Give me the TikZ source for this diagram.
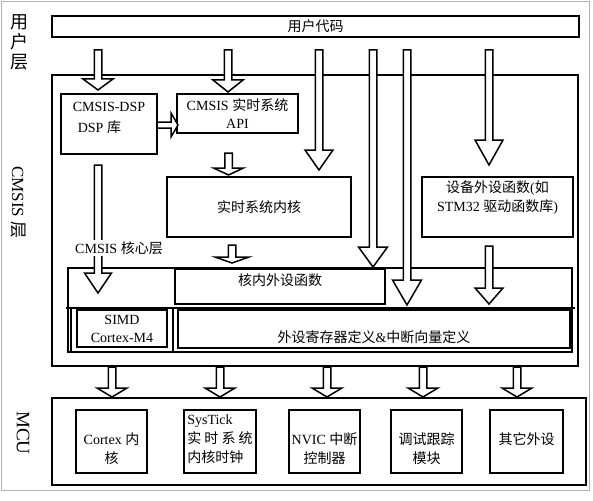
\documentclass[tikz,border=0pt]{standalone}
\usepackage{fontspec}
\setmainfont{Liberation Serif}
\newfontfamily\cjk{Noto Sans CJK SC}
\usepackage{tikz}
\usetikzlibrary{calc}
\newcommand\zh[1]{{\cjk #1}}
\newcommand\shaft{3.75pt}
% hollow block arrow pointing down: start, tip, head length, head half width
\newcommand\blockarr[4]{%
  \draw[arrowbox] let \p1=(#1), \p2=(#2) in
    (\x1-\shaft,\y1) -- (\x1-\shaft,\y2+#3pt) -- (\x1-#4pt,\y2+#3pt) -- (\x1,\y2)
    -- (\x1+#4pt,\y2+#3pt) -- (\x1+\shaft,\y2+#3pt) -- (\x1+\shaft,\y1) -- cycle;}
% hollow block arrow pointing right
\newcommand\hblockarr[4]{%
  \draw[arrowbox] let \p1=(#1), \p2=(#2) in
    (\x1,\y1+3pt) -- (\x2-#3pt,\y1+3pt) -- (\x2-#3pt,\y1+#4pt) -- (\x2,\y1)
    -- (\x2-#3pt,\y1-#4pt) -- (\x2-#3pt,\y1-3pt) -- (\x1,\y1-3pt) -- cycle;}

\tikzset{
  box/.style={draw, line width=1.5pt, inner sep=0pt, align=center,
    font=\fontsize{14}{18}\selectfont},
  txt/.style={inner sep=1pt, align=center, font=\fontsize{14}{19}\selectfont},
  arrowbox/.style={draw, line width=1.5pt, fill=white, line join=miter},
  sidelabel/.style={inner sep=0pt, align=center},
}

\begin{document}
\begin{tikzpicture}[x=1pt, y=-1pt]
  \useasboundingbox (0,0) rectangle (593,500);
  \draw[gray!60, line width=1pt] (1.5,1.5) rectangle (589,490);

  % layer names
  \node[sidelabel, font=\fontsize{18}{20}\selectfont\cjk] (userlayer) at (19,42) {用\\户\\层};
  \node[sidelabel, rotate=-90, font=\fontsize{17}{20}\selectfont] (cmsislayer) at (18,202.5) {CMSIS \zh{层}};
  \node[sidelabel, rotate=-90, font=\fontsize{19}{20}\selectfont] (mculayer) at (23,433) {MCU};

  % user layer
  \node[box, minimum width=527pt, minimum height=21pt] (user) at (315.5,26.5) {\zh{用户代码}};

  % CMSIS layer
  \node[box, minimum width=526pt, minimum height=291pt] (cmsis) at (315,220.5) {};
  \node[box, minimum width=96pt, minimum height=60pt] (dsp) at (109,124) {};
  \node[txt, align=left, font=\fontsize{14}{21}\selectfont] (dsptext) at (109,117.5) {CMSIS-DSP\\\hspace{5pt}DSP \zh{库}};
  \node[box, minimum width=121pt, minimum height=39pt] (api) at (237.5,113.5) {CMSIS \zh{实时系统}\\API};
  \node[box, minimum width=184pt, minimum height=60pt] (kernel) at (259,207) {\zh{实时系统内核}};
  \node[box, minimum width=151pt, minimum height=60pt] (device) at (497.5,207) {};
  \node[txt] (devicetext) at (497.5,197.5) {\zh{设备外设函数}(\zh{如}\\STM32 \zh{驱动函数库})};

  % CMSIS core layer
  \node[box, minimum width=504pt, minimum height=84pt] (core) at (320,310) {};
  \node[box, minimum width=210pt, minimum height=34.5pt] (corefunc) at (280,286.75) {};
  \node[txt] (corefunctext) at (280,280) {\zh{核内外设函数}};
  \draw[line width=1.5pt] (66,308) -- (575,308);
  \draw[line width=1.5pt] (71,308) -- (71,352);
  \draw[line width=1.5pt] (173,308) -- (173,352);
  \node[box, minimum width=90pt, minimum height=37pt] (simd) at (122,328.5) {SIMD\\Cortex-M4};
  \node[box, minimum width=392pt, minimum height=38pt] (regs) at (374,329) {};
  \node[txt] (regstext) at (374,337) {\zh{外设寄存器定义}\&\zh{中断向量定义}};

  % MCU layer
  \node[box, minimum width=534pt, minimum height=87pt] (mcu) at (319,441.5) {};
  \node[box, minimum width=71pt, minimum height=63pt] (cortex) at (111.5,441.5) {};
  \node[box, minimum width=72pt, minimum height=63pt] (systick) at (220,441.5) {};
  \node[box, minimum width=71pt, minimum height=63pt] (nvic) at (324.5,441.5) {};
  \node[box, minimum width=71pt, minimum height=63pt] (debug) at (426.5,441.5) {};
  \node[box, minimum width=73pt, minimum height=63pt] (other) at (526.5,441.5) {};
  \node[txt] (cortextext) at (111.5,448.5) {Cortex \zh{内}\\\zh{核}};
  \node[txt, align=left] (systicktext) at (220,439.5) {SysTick\\\zh{实 时 系 统}\\\zh{内核时钟}};
  \node[txt] (nvictext) at (324.5,448.5) {NVIC \zh{中断}\\\zh{控制器}};
  \node[txt] (debugtext) at (426.5,448.5) {\zh{调试跟踪}\\\zh{模块}};
  \node[txt] (othertext) at (526.5,439) {\zh{其它外设}};

  % arrow ends
  \coordinate (u1) at (98,50);    \coordinate (t1) at (98,90);
  \coordinate (u2) at (228,50);   \coordinate (t2) at (228,92);
  \coordinate (u3) at (319,50);   \coordinate (t3) at (319,170);
  \coordinate (u4) at (373,50);   \coordinate (t4) at (373,267);
  \coordinate (u5) at (407,50);   \coordinate (t5) at (407,305);
  \coordinate (u6) at (489,50);   \coordinate (t6) at (489,165);
  \coordinate (d1) at (98,165);   \coordinate (e1) at (98,293);
  \coordinate (d2) at (228.5,153); \coordinate (e2) at (228.5,175);
  \coordinate (d3) at (232,245);  \coordinate (e3) at (232,263);
  \coordinate (d4) at (489,246);  \coordinate (e4) at (489,304);
  \coordinate (h1) at (157,125);  \coordinate (h2) at (178,125);

  \blockarr{u1}{t1}{11}{15}
  \blockarr{u2}{t2}{12}{15}
  \blockarr{u3}{t3}{20}{14}
  \blockarr{u4}{t4}{20}{14.5}
  \blockarr{u5}{t5}{25}{14.5}
  \blockarr{u6}{t6}{25}{14}
  \blockarr{d1}{e1}{20}{13.5}
  \blockarr{d2}{e2}{7}{15}
  \blockarr{d3}{e3}{6}{17}
  \blockarr{d4}{e4}{16}{14}
  \hblockarr{h1}{h2}{7}{12}
  \node[txt, fill=white] (coretitle) at (119,248) {CMSIS \zh{核心层}};

  % CMSIS to MCU
  \foreach \x [count=\i] in {112,220,327,423,517} {
    \coordinate (m\i) at (\x,367);
    \coordinate (n\i) at (\x,397);
    \blockarr{m\i}{n\i}{9}{15}
  }
\end{tikzpicture}
\end{document}
